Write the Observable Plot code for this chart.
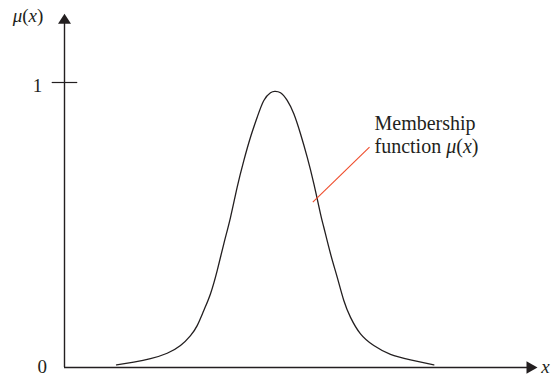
<!DOCTYPE html>
<html>
<head>
<meta charset="utf-8">
<script src="https://cdn.jsdelivr.net/npm/d3@7"></script>
<script src="https://cdn.jsdelivr.net/npm/@observablehq/plot@0.6"></script>
<style>
  html, body { margin: 0; padding: 0; background: #fff; }
  svg { display: block; }
</style>
</head>
<body>
<div id="chart"></div>
<script>
// Membership curve (x in abstract units, mu in [0,1])
const curveX  = [1.10, 1.465, 1.818, 2.171, 2.452, 2.664, 2.805, 2.945, 3.087, 3.228, 3.368, 3.510, 3.651, 3.791, 3.932, 4.074, 4.214, 4.355, 4.446, 4.567, 4.708, 4.848, 4.989, 5.131, 5.271, 5.412, 5.482, 5.624, 5.765, 5.905, 6.047, 6.258, 6.539, 6.892, 7.315, 7.808];
const curveMu = [0.009, 0.019, 0.031, 0.050, 0.077, 0.112, 0.147, 0.200, 0.259, 0.340, 0.434, 0.527, 0.633, 0.726, 0.808, 0.878, 0.937, 0.964, 0.969, 0.964, 0.937, 0.890, 0.820, 0.738, 0.645, 0.539, 0.492, 0.399, 0.317, 0.235, 0.176, 0.118, 0.077, 0.046, 0.027, 0.009];

// Axis extents and ticks
const xAxisEnd = 10.0;
const yAxisEnd = 1.241;
const yTicks = [1];
const yTickLabels = ["0", "1"];
const yTickLabelMu = [-0.020, 0.968];
const yTickLabelX = [-0.471, -0.571];

// Axis titles
const axisTitles = ["μ(x)", "x"];
const axisTitleX = [-0.772, 10.17];
const axisTitleMu = [1.214, -0.021];

// Annotation
const noteLines = ["Membership", "function μ(x)"];
const noteX = 6.554;
const noteMu = [0.835, 0.754];
const leaderFrom = [5.25, 0.580];
const leaderTo = [6.448, 0.773];

const curve = curveX.map((x, i) => ({x, mu: curveMu[i]}));

const arrowUp = {
  draw(ctx) { ctx.moveTo(0, 0); ctx.lineTo(6.5, 10); ctx.lineTo(-6.5, 10); ctx.closePath(); }
};
const arrowRight = {
  draw(ctx) { ctx.moveTo(0, 0); ctx.lineTo(-11, 6.2); ctx.lineTo(-11, -6.2); ctx.closePath(); }
};

const ink = "#231f20";
const serif = "'Liberation Serif', 'DejaVu Serif', serif";

const chart = Plot.plot({
  width: 554,
  height: 381,
  margin: 0,
  x: {domain: [0, 10], range: [64, 537], axis: null},
  y: {domain: [0, 1], range: [367, 82], axis: null},
  marks: [
    // axes
    Plot.ruleX([0], {y1: 0, y2: yAxisEnd - 0.03, stroke: ink, strokeWidth: 1.4}),
    Plot.ruleY([0], {x1: 0, x2: xAxisEnd - 0.2, stroke: ink, strokeWidth: 1.4}),
    Plot.ruleY(yTicks, {x1: -0.26, x2: 0.28, stroke: ink, strokeWidth: 1.2}),
    Plot.dot([{x: 0, mu: yAxisEnd}], {x: "x", y: "mu", symbol: arrowUp, fill: ink, stroke: "none"}),
    Plot.dot([{x: xAxisEnd, mu: 0}], {x: "x", y: "mu", symbol: arrowRight, fill: ink, stroke: "none"}),
    // tick labels
    Plot.text(yTickLabels, {x: (d, i) => yTickLabelX[i], y: (d, i) => yTickLabelMu[i], text: d => d,
      textAnchor: "middle", lineAnchor: "bottom", fontSize: 19, fontFamily: serif, fill: ink}),
    // axis titles
    Plot.text(axisTitles, {x: (d, i) => axisTitleX[i], y: (d, i) => axisTitleMu[i], text: d => d,
      textAnchor: (d, i) => i === 0 ? "middle" : "start", lineAnchor: "bottom", fontSize: 19, fontFamily: serif, fill: ink}),
    // curve
    Plot.line(curve, {x: "x", y: "mu", curve: "natural", stroke: ink, strokeWidth: 1.3}),
    // leader line
    Plot.link([{x1: leaderFrom[0], y1: leaderFrom[1], x2: leaderTo[0], y2: leaderTo[1]}],
      {x1: "x1", y1: "y1", x2: "x2", y2: "y2", stroke: "#ef4b2a", strokeWidth: 1.1}),
    // annotation text
    Plot.text(noteLines, {x: noteX, y: (d, i) => noteMu[i], text: d => d, textAnchor: "start",
      lineAnchor: "bottom", fontSize: 20, fontFamily: serif, fill: ink})
  ]
});

// italicize the math symbols μ and x inside labels
d3.select(chart).selectAll("text").each(function() {
  const el = this;
  if (el.querySelector("tspan")) return;
  const s = el.textContent;
  if (!/[μx]/.test(s) || /[a-wyz]/.test(s.replace(/[μx]/g, "")) && !/μ\(x\)/.test(s)) {
    if (!/[μx]/.test(s)) return;
  }
  el.textContent = "";
  const parts = s.match(/μ|x|[^μx]+/g) || [];
  for (const p of parts) {
    const t = document.createElementNS("http://www.w3.org/2000/svg", "tspan");
    t.textContent = p;
    if (p === "μ" || p === "x") t.setAttribute("font-style", "italic");
    el.appendChild(t);
  }
});

document.getElementById("chart").appendChild(chart);
</script>
</body>
</html>
